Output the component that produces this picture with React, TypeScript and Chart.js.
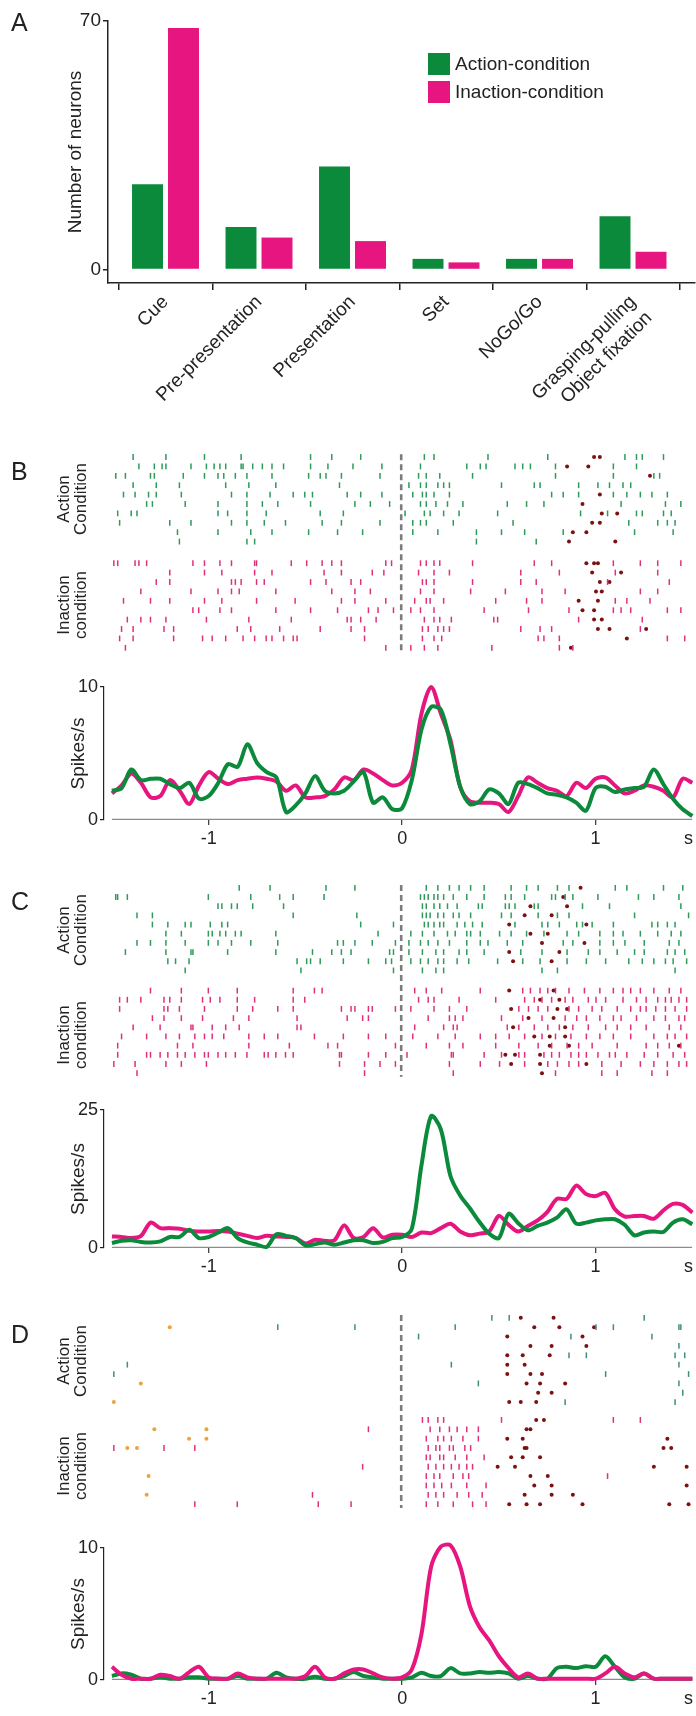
import React, { useEffect, useRef } from 'react';
import { Chart, registerables } from 'chart.js';

Chart.register(...registerables);

const FONT = 'Arial, "Liberation Sans", Helvetica, sans-serif';
const TXT = '#222222';
const GREEN = '#0b8a3b';
const PINK = '#e6157f';
const R_GREEN = '#2f9a5a';
const R_PINK = '#e0307c';
const EVENT = '#7a1212';
const ORANGE = '#eca33c';
const TEAL = '#3e8e80';

// ---------- Panel A ----------
const categories: (string | string[])[] = ['Cue', 'Pre-presentation', 'Presentation', 'Set', 'NoGo/Go', ['Grasping-pulling', 'Object fixation']];
const actionCounts = [24, 12, 29, 3, 3, 15];
const inactionCounts = [68, 9, 8, 2, 3, 5];
const countTicks = [0, 70];

// ---------- PSTH data ----------
const psthTimes = [
  -1.5, -1.45, -1.4, -1.35, -1.3, -1.25, -1.2, -1.15, -1.1, -1.05,
  -1, -0.95, -0.9, -0.85, -0.8, -0.75, -0.7, -0.65, -0.6, -0.55,
  -0.5, -0.45, -0.4, -0.35, -0.3, -0.25, -0.2, -0.15, -0.1, -0.05,
  0, 0.05, 0.1, 0.15, 0.2, 0.25, 0.3, 0.35, 0.4, 0.45,
  0.5, 0.55, 0.6, 0.65, 0.7, 0.75, 0.8, 0.85, 0.9, 0.95,
  1, 1.05, 1.1, 1.15, 1.2, 1.25, 1.3, 1.35, 1.4, 1.45,
  1.5,
];
const timeTicks = [-1, 0, 1, 1.48];

const psthB_action = [
  2.2, 2.4, 3.8, 3.0, 3.1, 3.1, 2.7, 2.4, 2.8, 1.6,
  1.8, 2.8, 4.2, 4.0, 5.7, 4.3, 3.6, 3.2, 0.6, 1.1,
  2.0, 3.3, 2.2, 2.0, 2.2, 2.9, 3.6, 1.3, 1.7, 0.8,
  0.9, 3.0, 6.8, 8.5, 8.3, 5.7, 2.5, 1.2, 1.4, 2.3,
  2.0, 1.2, 2.8, 2.7, 2.4, 2.0, 1.9, 1.7, 1.3, 0.7,
  2.4, 2.5, 2.1, 2.3, 2.4, 2.5, 3.8, 2.7, 1.6, 0.8,
  0.3,
];
const psthB_inaction = [
  2.0, 2.6, 3.5, 2.8, 1.7, 1.8, 3.0, 2.2, 1.2, 2.6,
  3.6, 3.1, 2.7, 3.0, 3.1, 3.2, 3.1, 2.9, 2.2, 2.6,
  1.7, 1.7, 1.8, 2.3, 3.2, 3.0, 3.8, 3.5, 3.0, 2.6,
  2.8, 3.8, 8.0, 10.0, 8.0, 6.0, 2.5, 1.4, 1.3, 1.3,
  1.2, 0.6, 1.8, 3.2, 2.8, 2.4, 2.2, 1.8, 2.8, 2.4,
  3.1, 3.2, 2.6, 2.0, 2.2, 2.6, 2.5, 2.2, 1.7, 3.1,
  2.8,
];
const psthC_action = [
  0.9, 1.3, 1.4, 1.1, 1.0, 1.2, 2.0, 2.0, 3.3, 1.8,
  2.0, 2.8, 3.6, 1.8, 1.0, 0.6, 0.2, 2.5, 2.2, 1.8,
  0.5, 0.7, 1.0, 0.6, 1.0, 1.4, 1.4, 0.9, 1.1, 1.8,
  2.0, 3.5, 15.0, 23.9, 21.5, 13.0, 9.5, 7.2, 4.7, 2.6,
  1.8, 6.2, 4.5, 3.2, 4.0, 4.6, 5.5, 7.0, 4.4, 4.6,
  5.0, 5.2, 5.2, 4.2, 2.3, 2.8, 3.0, 2.9, 4.6, 5.2,
  4.3,
];
const psthC_inaction = [
  2.1, 2.0, 1.8, 2.2, 4.6, 3.6, 3.6, 3.5, 3.1, 3.0,
  3.0, 3.1, 3.0, 2.6, 2.2, 1.8, 2.2, 2.1, 2.0, 1.8,
  0.8, 1.5, 1.3, 1.4, 4.1, 1.8, 2.0, 3.6, 1.9, 2.4,
  2.4, 2.0, 2.8, 2.7, 3.6, 4.4, 3.0, 2.3, 2.6, 3.0,
  5.8, 4.2, 3.0, 4.0, 5.0, 6.5, 8.9, 8.9, 11.3, 9.8,
  9.4, 10.0, 7.0, 5.7, 5.8, 5.8, 5.3, 6.8, 8.0, 7.8,
  6.4,
];
const psthD_action = [
  0.3, 0.5, 0.4, 0.1, 0.1, 0.2, 0.1, 0.1, 0.2, 0.2,
  0.1, 0.1, 0.1, 0.3, 0.1, 0.1, 0.1, 0.55, 0.2, 0.1,
  0.1, 0.25, 0.1, 0.1, 0.3, 0.6, 0.3, 0.2, 0.1, 0.1,
  0.1, 0.2, 0.55, 0.3, 0.3, 0.9, 0.5, 0.5, 0.6, 0.55,
  0.6, 0.5, 0.1, 0.3, 0.1, 0.1, 0.9, 1.0, 0.9, 1.05,
  1.0, 1.8, 1.0, 0.2, 0.1, 0.5, 0.1, 0.1, 0.1, 0.1,
  0.1,
];
const psthD_inaction = [
  1.0, 0.4, 0.1, 0.1, 0.1, 0.4, 0.3, 0.1, 0.6, 1.0,
  0.2, 0.1, 0.1, 0.5, 0.2, 0.1, 0.1, 0.1, 0.1, 0.1,
  0.3, 1.0, 0.2, 0.1, 0.5, 0.8, 0.8, 0.5, 0.2, 0.1,
  0.2, 0.8, 3.5, 8.6, 10.1, 10.2, 8.6, 5.6, 4.0, 3.0,
  1.8, 0.9, 0.2, 0.5, 0.1, 0.1, 0.1, 0.1, 0.1, 0.1,
  0.1, 0.5, 1.0, 0.5, 0.2, 0.5, 0.1, 0.1, 0.1, 0.1,
  0.1,
];

// ---------- Raster data (spike times in s, one array per trial) ----------
const rasterB_action = [
  [-1.39, -1.22, -1.02, -0.83, -0.47, -0.36, -0.21, 0.12, 0.17, 0.45, 0.76, 1.16, 1.22, 1.25, 1.36],
  [-1.36, -1.28, -1.24, -1.22, -1.09, -1.01, -0.97, -0.94, -0.91, -0.83, -0.82, -0.77, -0.72, -0.67, -0.61, -0.47, -0.38, -0.25, -0.1, 0.1, 0.34, 0.41, 0.44, 0.59, 0.63, 0.67, 0.8, 1.1, 1.22],
  [-1.48, -1.43, -1.3, -1.28, -1.13, -1.02, -0.95, -0.92, -0.86, -0.8, -0.67, -0.48, -0.42, -0.39, -0.31, -0.11, 0.09, 0.13, 0.2, 0.37, 0.8, 1.1, 1.31, 1.34],
  [-1.39, -1.27, -1.15, -0.91, -0.79, -0.65, -0.32, 0.04, 0.1, 0.13, 0.19, 0.22, 0.25, 0.52, 0.69, 0.72, 0.92, 1.02, 1.08, 1.15, 1.19],
  [-1.44, -1.38, -1.31, -1.27, -1.14, -0.88, -0.8, -0.68, -0.56, -0.5, -0.46, -0.28, -0.21, -0.1, 0.06, 0.11, 0.13, 0.17, 0.25, 0.78, 0.84, 0.92, 1.1, 1.17, 1.24, 1.3, 1.38],
  [-1.32, -1.29, -1.12, -0.95, -0.8, -0.72, -0.64, -0.47, -0.24, -0.16, -0.06, 0.1, 0.13, 0.18, 0.24, 0.32, 0.55, 0.65, 0.74, 1.14, 1.37, 1.45],
  [-1.47, -1.4, -1.37, -0.95, -0.9, -0.8, -0.7, -0.42, -0.3, 0.02, 0.12, 0.15, 0.22, 0.3, 0.5, 0.93, 1.07, 1.22, 1.25, 1.36, 1.4],
  [-1.46, -1.2, -1.09, -0.88, -0.8, -0.71, -0.6, -0.41, -0.31, -0.11, 0.06, 0.1, 0.13, 0.27, 0.58, 1.18, 1.33, 1.38, 1.42],
  [-1.16, -0.95, -0.78, -0.67, -0.48, -0.33, -0.2, 0.06, 0.19, 0.39, 0.52, 0.64, 0.84, 1.21, 1.41],
  [-1.15, -0.8, -0.76, 0.39, 0.7],
];
const eventsB_action = [[1.0, 1.03], [0.86, 0.97], [1.29], [], [1.03], [0.94], [1.04, 1.12], [0.99, 1.03], [0.89, 0.96], [0.87, 1.11]];
const rasterB_inaction = [
  [-1.49, -1.47, -1.38, -1.36, -1.32, -1.08, -1.02, -0.94, -0.88, -0.76, -0.75, -0.57, -0.49, -0.41, -0.36, -0.31, -0.08, -0.05, 0.1, 0.13, 0.17, 0.2, 0.37, 0.69, 0.78, 1.1, 1.24, 1.33, 1.45],
  [-1.2, -1.02, -0.93, -0.76, -0.67, -0.4, -0.31, -0.15, -0.09, 0.09, 0.17, 0.25, 0.62, 0.82, 1.11, 1.33],
  [-1.27, -1.2, -0.88, -0.86, -0.83, -0.75, -0.71, -0.47, -0.39, -0.26, -0.21, 0.11, 0.13, 0.17, 0.37, 0.62, 0.7, 1.07, 1.39],
  [-1.35, -1.09, -0.95, -0.88, -0.84, -0.65, -0.36, -0.24, -0.16, 0.1, 0.17, 0.36, 0.54, 0.73, 0.85, 1.24, 1.33],
  [-1.44, -1.3, -1.2, -1.02, -0.93, -0.75, -0.55, -0.31, -0.24, -0.08, 0.07, 0.13, 0.15, 0.22, 0.49, 0.65, 0.73, 1.11, 1.17, 1.29],
  [-1.08, -1.05, -0.94, -0.88, -0.65, -0.47, -0.33, -0.17, -0.12, -0.04, 0.05, 0.1, 0.17, 0.43, 0.66, 0.87, 1.1, 1.14, 1.19, 1.38, 1.45],
  [-1.42, -1.35, -1.3, -1.22, -1.01, -0.79, -0.57, -0.28, -0.26, -0.21, -0.13, 0.12, 0.17, 0.2, 0.26, 0.48, 0.5, 0.92, 1.25],
  [-1.45, -1.39, -1.23, -1.18, -0.85, -0.78, -0.63, -0.42, -0.26, -0.19, 0.11, 0.14, 0.19, 0.22, 0.25, 0.62, 0.72, 0.78, 1.24],
  [-1.46, -1.39, -1.18, -1.03, -0.98, -0.91, -0.82, -0.76, -0.7, -0.67, -0.61, -0.56, -0.54, -0.19, 0.11, 0.17, 0.21, 0.71, 0.74, 0.82, 1.38, 1.47],
  [-1.43, -0.08, 0.05, 0.12, 0.19, 0.47, 0.82, 0.89],
];
const eventsB_inaction = [[0.96, 1.0, 1.02], [0.99, 1.14], [1.03, 1.08], [1.01, 1.04], [0.92, 1.02], [0.94, 1.0], [1.0, 1.04], [1.02, 1.08, 1.27], [1.17], [0.88]];

const rasterC_action = [
  [-0.84, -0.68, -0.39, -0.24, 0.13, 0.19, 0.25, 0.3, 0.36, 0.43, 0.57, 0.65, 0.71, 0.81, 0.87, 1.11, 1.17, 1.36, 1.46],
  [-1.48, -1.47, -1.42, -1.0, -0.78, -0.63, -0.56, -0.4, 0.1, 0.12, 0.14, 0.17, 0.19, 0.22, 0.27, 0.34, 0.43, 0.54, 0.57, 0.64, 0.78, 0.8, 0.85, 0.89, 1.02, 1.23, 1.31, 1.44],
  [-0.95, -0.93, -0.88, -0.85, -0.77, -0.61, 0.11, 0.13, 0.17, 0.2, 0.24, 0.29, 0.4, 0.42, 0.54, 0.56, 0.59, 0.69, 0.71, 0.94, 1.08, 1.45],
  [-1.37, -1.29, -0.56, -0.23, 0.11, 0.13, 0.15, 0.19, 0.22, 0.27, 0.3, 0.36, 0.52, 0.57, 0.71, 0.81, 0.87, 1.21, 1.49],
  [-1.29, -1.21, -1.12, -1.09, -0.99, -0.93, -0.9, -0.21, -0.04, 0.12, 0.14, 0.17, 0.2, 0.22, 0.29, 0.33, 0.37, 0.42, 0.59, 0.73, 0.76, 0.82, 0.91, 0.94, 0.99, 1.1, 1.3, 1.33, 1.38, 1.42],
  [-1.22, -1.14, -1.0, -0.98, -0.94, -0.91, -0.86, -0.83, -0.65, -0.12, 0.05, 0.11, 0.17, 0.24, 0.28, 0.34, 0.36, 0.41, 0.51, 0.57, 0.65, 0.74, 0.86, 0.92, 1.03, 1.1, 1.15, 1.24, 1.33, 1.4, 1.45],
  [-1.37, -1.3, -1.22, -1.12, -1.0, -0.95, -0.88, -0.78, -0.64, -0.33, -0.3, -0.24, -0.15, -0.03, 0.04, 0.1, 0.14, 0.19, 0.25, 0.34, 0.41, 0.45, 0.55, 0.63, 0.84, 0.89, 1.03, 1.1, 1.16, 1.26, 1.39, 1.44],
  [-1.43, -1.22, -1.09, -1.08, -0.9, -0.65, -0.46, -0.36, -0.31, -0.26, -0.06, -0.04, 0.04, 0.11, 0.18, 0.22, 0.3, 0.34, 0.43, 0.62, 0.73, 0.86, 0.97, 1.03, 1.12, 1.21, 1.26, 1.38, 1.42, 1.47],
  [-1.21, -1.17, -1.1, -0.54, -0.49, -0.47, -0.42, -0.3, -0.17, -0.08, -0.05, 0.05, 0.1, 0.14, 0.19, 0.22, 0.29, 0.35, 0.5, 0.63, 0.72, 0.86, 0.96, 1.06, 1.18, 1.25, 1.31, 1.37, 1.41, 1.48],
  [-1.12, -0.52, -0.04, 0.11, 0.18, 0.22, 0.73, 0.81, 1.42],
];
const eventsC_action = [[0.93], [0.84], [0.67, 0.86], [0.64, 0.78], [0.96, 0.56], [0.67, 0.76], [0.73, 0.95], [0.56, 0.82], [0.58, 0.78], []];
const rasterC_inaction = [
  [-1.3, -1.14, -1.0, -0.85, -0.56, -0.45, -0.41, 0.07, 0.13, 0.21, 0.41, 0.63, 0.67, 0.72, 0.76, 0.8, 0.87, 0.95, 1.03, 1.1, 1.15, 1.19, 1.24, 1.31, 1.39, 1.45],
  [-1.46, -1.42, -1.35, -1.23, -1.2, -1.14, -1.03, -0.99, -0.94, -0.85, -0.76, -0.56, -0.5, 0.09, 0.14, 0.17, 0.3, 0.49, 0.64, 0.69, 0.73, 0.78, 0.85, 0.89, 0.97, 1.01, 1.06, 1.15, 1.22, 1.27, 1.33, 1.37, 1.4, 1.44, 1.48],
  [-1.46, -1.23, -1.21, -1.15, -1.02, -0.85, -0.77, -0.64, -0.56, -0.31, -0.26, -0.24, -0.17, -0.15, -0.03, 0.05, 0.17, 0.25, 0.34, 0.61, 0.66, 0.71, 0.76, 0.87, 0.92, 0.99, 1.04, 1.12, 1.19, 1.24, 1.27, 1.32, 1.37, 1.42, 1.48],
  [-1.29, -1.23, -1.14, -1.03, -0.87, -0.79, -0.54, -0.28, -0.2, -0.17, 0.14, 0.25, 0.28, 0.32, 0.52, 0.63, 0.73, 0.85, 0.91, 0.96, 1.03, 1.1, 1.14, 1.22, 1.31, 1.37, 1.44, 1.47],
  [-1.39, -1.25, -1.09, -1.08, -0.98, -0.91, -0.84, -0.54, -0.52, 0.07, 0.22, 0.27, 0.29, 0.55, 0.61, 0.69, 0.76, 0.82, 0.89, 0.97, 1.06, 1.12, 1.19, 1.27, 1.39, 1.45],
  [-1.45, -1.32, -1.22, -1.15, -1.07, -1.02, -0.98, -0.92, -0.79, -0.71, -0.64, -0.45, -0.3, -0.17, -0.08, 0.06, 0.19, 0.28, 0.41, 0.49, 0.56, 0.64, 0.73, 0.8, 0.88, 0.96, 1.03, 1.1, 1.19, 1.31, 1.38, 1.42, 1.48],
  [-1.47, -1.16, -1.08, -0.79, -0.58, -0.38, -0.33, -0.03, 0.13, 0.25, 0.32, 0.49, 0.61, 0.71, 0.78, 0.86, 0.92, 0.99, 1.12, 1.27, 1.33, 1.39, 1.45],
  [-1.47, -1.32, -1.3, -1.25, -1.21, -1.16, -1.12, -1.07, -1.02, -1.0, -0.95, -0.91, -0.86, -0.8, -0.71, -0.69, -0.65, -0.6, -0.56, -0.32, -0.31, -0.17, -0.08, 0.03, 0.26, 0.27, 0.43, 0.52, 0.61, 0.64, 0.74, 0.78, 0.82, 0.88, 0.92, 0.96, 1.02, 1.08, 1.11, 1.17, 1.26, 1.33, 1.41, 1.47],
  [-1.49, -1.38, -1.22, -1.14, -1.01, -0.32, -0.19, -0.11, -0.03, 0.25, 0.41, 0.51, 0.64, 0.76, 0.81, 0.87, 0.92, 1.04, 1.14, 1.24, 1.31, 1.38, 1.44, 1.48],
  [-1.37, -0.19, 0.27, 0.8, 1.04, 1.12, 1.3, 1.38],
];
const eventsC_inaction = [[0.56, 0.79], [0.72, 0.82], [0.57, 0.86, 0.81], [0.79, 0.66], [0.58, 0.85], [0.69, 0.77, 0.85], [0.77, 0.87, 1.44], [0.54, 0.72, 0.59], [0.57, 0.72, 0.96], [0.73]];

const rasterD_action = [
  [0.47, 0.56, 1.26],
  [-0.64, -0.24, 0.28, 1.01, 1.1, 1.44, 1.45],
  [0.09, 0.88, 1.3],
  [1.44],
  [0.87, 0.96, 1.42, 1.47],
  [-1.42, 0.26, 1.44],
  [-1.49, 1.06, 1.49],
  [0.4, 1.44],
  [1.46],
  [0.85, 1.42],
];
const eventsD_action = [[0.62, 0.79], [0.69, 0.82, 1.0], [0.55, 0.94], [0.67, 0.78, 0.96], [0.55, 0.63, 0.77], [0.55, 0.64], [0.55, 0.67, 0.73], [0.65, 0.72, 0.85], [0.71, 0.78], [0.56, 0.62, 0.7]];
const orangeD_action = [[], [-1.2], [], [], [], [], [], [-1.35], [], [-1.49]];
const rasterD_inaction = [
  [0.11, 0.14, 0.19, 0.22, 0.52, 1.1, 1.24],
  [-0.17, 0.15, 0.2, 0.25, 0.29, 0.34, 0.4],
  [0.13, 0.19, 0.22, 0.26, 0.32, 0.4],
  [-1.49, -1.23, -1.07, 0.14, 0.18, 0.2, 0.25, 0.27, 0.33, 0.36],
  [0.13, 0.15, 0.2, 0.22, 0.28, 0.34, 0.43],
  [-0.2, 0.14, 0.18, 0.22, 0.26, 0.3, 0.34, 0.37],
  [0.13, 0.17, 0.2, 0.27, 0.32, 0.35, 1.07],
  [0.13, 0.17, 0.21, 0.26, 0.34, 0.44],
  [-0.46, 0.14, 0.18, 0.22, 0.29, 0.35, 0.42],
  [-1.07, -0.85, -0.43, -0.26, 0.13, 0.19, 0.27, 0.37, 0.44],
];
const eventsD_inaction = [[0.7, 0.74], [0.67, 0.65], [0.55, 0.63, 1.38], [0.65, 0.64, 1.36, 1.4], [0.57, 0.72, 0.63], [0.5, 0.59, 1.31, 1.48], [0.76, 0.67], [0.69, 0.78, 1.48], [0.89, 0.64, 0.78], [0.56, 0.65, 0.72, 0.94, 1.39, 1.49]];
const orangeD_inaction = [[], [-1.28, -1.01], [-1.1, -1.01], [-1.42, -1.37], [], [], [-1.31], [], [-1.32], []];

// ---------- helpers ----------
const X_MIN = -1.541;
const X_MAX = 1.5;

function ChartCanvas({ top, height, make }: { top: number; height: number; make: () => any }) {
  const ref = useRef<HTMLCanvasElement | null>(null);
  useEffect(() => {
    if (!ref.current) return;
    const chart = new Chart(ref.current, make());
    return () => chart.destroy();
  }, []);
  return (
    <canvas
      ref={ref}
      width={696}
      height={height}
      style={{ position: 'absolute', left: 0, top, width: 696, height, display: 'block' }}
    />
  );
}

function makeBarConfig() {
  return {
    type: 'bar',
    data: {
      datasets: [
        {
          label: 'Action-condition',
          data: actionCounts.map((v, i) => ({ x: i, y: v })),
          backgroundColor: GREEN,
          borderWidth: 0,
          categoryPercentage: 0.77,
          barPercentage: 0.86,
        },
        {
          label: 'Inaction-condition',
          data: inactionCounts.map((v, i) => ({ x: i, y: v })),
          backgroundColor: PINK,
          borderWidth: 0,
          categoryPercentage: 0.77,
          barPercentage: 0.86,
        },
      ],
    },
    options: {
      responsive: false,
      animation: false,
      devicePixelRatio: 1,
      layout: { padding: { top: 21, right: 1, left: 0, bottom: 0 } },
      plugins: { legend: { display: false }, tooltip: { enabled: false } },
      scales: {
        x: {
          type: 'linear',
          min: -0.615,
          max: 5.663,
          offset: false,
          afterBuildTicks: (s: any) => {
            s.ticks = categories.map((_, i) => ({ value: i }));
          },
          afterFit: (s: any) => {
            s.height = 127;
          },
          ticks: {
            autoSkip: false,
            minRotation: 45,
            maxRotation: 45,
            padding: 1,
            color: TXT,
            font: { family: FONT, size: 19 },
            callback: (v: any) => categories[v as number],
          },
          grid: { drawOnChartArea: false, drawTicks: true, tickLength: 7, color: TXT, lineWidth: 1.5 },
          border: { display: true, color: TXT, width: 1.5 },
        },
        y: {
          type: 'linear',
          min: -3.8,
          max: 70,
          afterBuildTicks: (s: any) => {
            s.ticks = countTicks.map((v) => ({ value: v }));
          },
          afterFit: (s: any) => {
            s.width = 108;
          },
          ticks: { padding: 2, color: TXT, font: { family: FONT, size: 19 } },
          grid: { drawOnChartArea: false, tickLength: 5, color: TXT, lineWidth: 1.5 },
          border: { display: true, color: TXT, width: 1.5 },
          title: {
            display: true,
            text: 'Number of neurons',
            color: TXT,
            font: { family: FONT, size: 19 },
            padding: { top: 64, bottom: 0 },
          },
        },
      },
    },
  };
}

function makePsthConfig(action: number[], inaction: number[], ymax: number, padTop: number, xHeight: number, greenOnTop: boolean) {
  return {
    type: 'line',
    data: {
      datasets: [
        {
          data: [{ x: -1.5, y: 0 }, { x: 1.5, y: 0 }],
          borderColor: '#8c8c8c',
          borderWidth: 2.5,
          pointRadius: 0,
          order: 5,
        },
        {
          data: psthTimes.map((t, i) => ({ x: t, y: inaction[i] })),
          borderColor: PINK,
          borderWidth: 4,
          pointRadius: 0,
          tension: 0.3,
          clip: false,
          order: greenOnTop ? 2 : 1,
        },
        {
          data: psthTimes.map((t, i) => ({ x: t, y: action[i] })),
          borderColor: GREEN,
          borderWidth: 4,
          pointRadius: 0,
          tension: 0.3,
          clip: false,
          order: greenOnTop ? 1 : 2,
        },
      ],
    },
    options: {
      responsive: false,
      animation: false,
      devicePixelRatio: 1,
      layout: { padding: { top: padTop, right: 2, left: 0, bottom: 0 } },
      plugins: { legend: { display: false }, tooltip: { enabled: false } },
      scales: {
        x: {
          type: 'linear',
          min: X_MIN,
          max: X_MAX,
          afterBuildTicks: (s: any) => {
            s.ticks = timeTicks.map((v) => ({ value: v }));
          },
          afterFit: (s: any) => {
            s.height = xHeight;
          },
          ticks: {
            autoSkip: false,
            maxRotation: 0,
            padding: 3,
            color: TXT,
            font: { family: FONT, size: 18 },
            callback: (v: any) => (v === 1.48 ? 's' : String(v)),
          },
          grid: {
            drawOnChartArea: false,
            tickLength: 5,
            lineWidth: 1.3,
            color: (ctx: any) => (ctx.tick && ctx.tick.value === 1.48 ? 'rgba(0,0,0,0)' : '#444'),
          },
          border: { display: false },
        },
        y: {
          type: 'linear',
          min: 0,
          max: ymax,
          afterBuildTicks: (s: any) => {
            s.ticks = [{ value: 0 }, { value: ymax }];
          },
          afterFit: (s: any) => {
            s.width = 104;
          },
          ticks: { padding: 2, color: TXT, font: { family: FONT, size: 18 } },
          grid: { drawOnChartArea: false, tickLength: 4, color: TXT, lineWidth: 1.2 },
          border: { display: true, color: TXT, width: 1.2 },
          title: {
            display: true,
            text: 'Spikes/s',
            color: TXT,
            font: { family: FONT, size: 19 },
            padding: { top: 67, bottom: 0 },
          },
        },
      },
    },
  };
}

const ROW_MIN = -0.7;
const ROW_MAX = 21;

function toPoints(rows: number[][], base: number) {
  const pts: { x: number; y: number }[] = [];
  rows.forEach((r, k) => r.forEach((t) => pts.push({ x: t, y: base + k })));
  return pts;
}

function tickSet(data: any[], color: string) {
  return {
    type: 'scatter',
    data,
    showLine: false,
    pointStyle: 'line',
    pointRotation: 90,
    pointRadius: 2.9,
    pointBorderWidth: 1.5,
    pointBorderColor: color,
    pointBackgroundColor: color,
    clip: false,
  };
}
function dotSet(data: any[], color: string) {
  return {
    type: 'scatter',
    data,
    showLine: false,
    pointStyle: 'circle',
    pointRadius: 2,
    pointBorderWidth: 0,
    pointBackgroundColor: color,
    pointBorderColor: color,
    clip: false,
  };
}

function makeRasterConfig(opts: {
  canvasTop: number;
  height: number;
  firstRow: number;
  spacing: number;
  offset: number;
  action: number[][];
  inaction: number[][];
  evA: number[][];
  evI: number[][];
  actionColor: string;
  orA?: number[][];
  orI?: number[][];
}) {
  const { canvasTop, height, firstRow, spacing, offset } = opts;
  const padTop = firstRow + ROW_MIN * spacing - canvasTop;
  const padBottom = canvasTop + height - (firstRow + ROW_MAX * spacing);
  const datasets: any[] = [
    {
      type: 'line',
      data: [{ x: 0, y: -0.3 }, { x: 0, y: offset + 9.4 }],
      borderColor: '#7c7c7c',
      borderWidth: 2.6,
      borderDash: [6, 4],
      pointRadius: 0,
    },
    tickSet(toPoints(opts.action, 0), opts.actionColor),
    tickSet(toPoints(opts.inaction, offset), R_PINK),
    dotSet(toPoints(opts.evA, 0), EVENT),
    dotSet(toPoints(opts.evI, offset), EVENT),
  ];
  if (opts.orA) datasets.push(dotSet(toPoints(opts.orA, 0), ORANGE));
  if (opts.orI) datasets.push(dotSet(toPoints(opts.orI, offset), ORANGE));
  return {
    type: 'scatter',
    data: { datasets },
    options: {
      responsive: false,
      animation: false,
      devicePixelRatio: 1,
      layout: { padding: { top: padTop, bottom: padBottom, left: 104, right: 2 } },
      plugins: { legend: { display: false }, tooltip: { enabled: false } },
      scales: {
        x: { type: 'linear', display: false, min: X_MIN, max: X_MAX },
        y: { type: 'linear', display: false, reverse: true, min: ROW_MIN, max: ROW_MAX },
      },
    },
  };
}

function SideLabel({ cy, lines }: { cy: number; lines: string[] }) {
  return (
    <div
      style={{
        position: 'absolute',
        left: 72 - 60,
        top: cy - 17,
        width: 120,
        height: 34,
        transform: 'rotate(-90deg)',
        transformOrigin: '50% 50%',
        textAlign: 'center',
        fontFamily: FONT,
        fontSize: 17,
        lineHeight: '17px',
        color: TXT,
        whiteSpace: 'nowrap',
      }}
    >
      {lines[0]}
      <br />
      {lines[1]}
    </div>
  );
}

function PanelLetter({ top, text }: { top: number; text: string }) {
  return (
    <div
      style={{
        position: 'absolute',
        left: 11,
        top,
        fontFamily: FONT,
        fontSize: 25,
        lineHeight: '25px',
        color: TXT,
      }}
    >
      {text}
    </div>
  );
}

function LegendItem({ top, color, text }: { top: number; color: string; text: string }) {
  return (
    <>
      <div style={{ position: 'absolute', left: 428, top, width: 22, height: 22, background: color }} />
      <div
        style={{
          position: 'absolute',
          left: 455,
          top,
          height: 22,
          lineHeight: '22px',
          fontFamily: FONT,
          fontSize: 19,
          color: TXT,
          whiteSpace: 'nowrap',
        }}
      >
        {text}
      </div>
    </>
  );
}

export default function App() {
  return (
    <div style={{ position: 'absolute', left: 0, top: 0, width: 696, height: 1716, background: '#ffffff', overflow: 'hidden' }}>
      <ChartCanvas top={0} height={410} make={makeBarConfig} />
      <PanelLetter top={10} text="A" />
      <LegendItem top={53} color={GREEN} text="Action-condition" />
      <LegendItem top={81} color={PINK} text="Inaction-condition" />

      <ChartCanvas
        top={440}
        height={220}
        make={() =>
          makeRasterConfig({
            canvasTop: 440, height: 220, firstRow: 457, spacing: 9.4, offset: 11.3,
            action: rasterB_action, inaction: rasterB_inaction, evA: eventsB_action, evI: eventsB_inaction,
            actionColor: R_GREEN,
          })
        }
      />
      <PanelLetter top={459} text="B" />
      <SideLabel cy={499} lines={['Action', 'Condition']} />
      <SideLabel cy={605} lines={['Inaction', 'condition']} />
      <ChartCanvas top={660} height={200} make={() => makePsthConfig(psthB_action, psthB_inaction, 10, 27, 40, true)} />

      <ChartCanvas
        top={870}
        height={216}
        make={() =>
          makeRasterConfig({
            canvasTop: 870, height: 216, firstRow: 888, spacing: 9.4, offset: 11.2,
            action: rasterC_action, inaction: rasterC_inaction, evA: eventsC_action, evI: eventsC_inaction,
            actionColor: R_GREEN,
          })
        }
      />
      <PanelLetter top={889} text="C" />
      <SideLabel cy={930} lines={['Action', 'Condition']} />
      <SideLabel cy={1035} lines={['Inaction', 'condition']} />
      <ChartCanvas top={1086} height={200} make={() => makePsthConfig(psthC_action, psthC_inaction, 25, 24, 38, true)} />

      <ChartCanvas
        top={1300}
        height={220}
        make={() =>
          makeRasterConfig({
            canvasTop: 1300, height: 220, firstRow: 1318, spacing: 9.6, offset: 10.9,
            action: rasterD_action, inaction: rasterD_inaction, evA: eventsD_action, evI: eventsD_inaction,
            actionColor: TEAL, orA: orangeD_action, orI: orangeD_inaction,
          })
        }
      />
      <PanelLetter top={1322} text="D" />
      <SideLabel cy={1361} lines={['Action', 'Condition']} />
      <SideLabel cy={1466} lines={['Inaction', 'condition']} />
      <ChartCanvas top={1520} height={196} make={() => makePsthConfig(psthD_action, psthD_inaction, 10, 28, 36, false)} />
    </div>
  );
}
